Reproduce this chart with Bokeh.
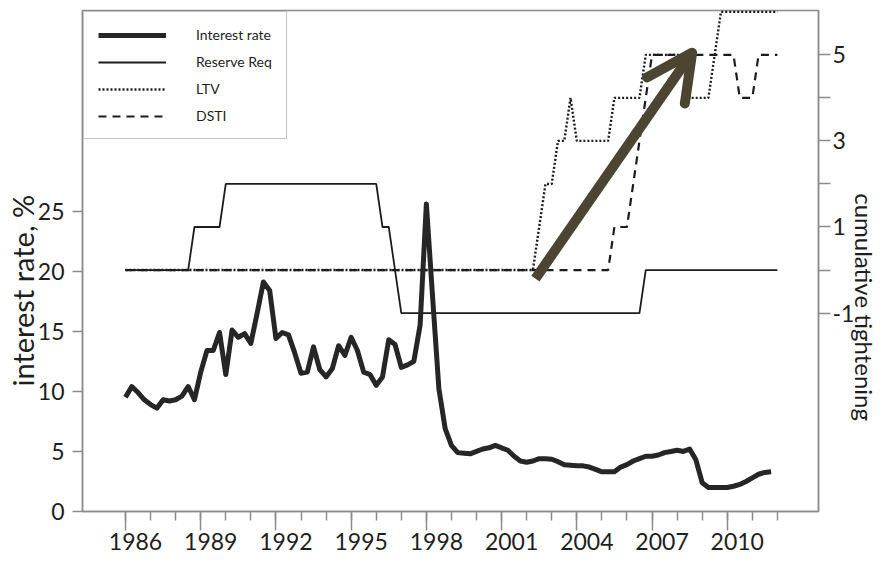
from bokeh.plotting import figure
from bokeh.models import (Range1d, LinearAxis, FixedTicker, Legend, LegendItem,
                          Arrow, OpenHead, CustomJSTickFormatter)
from bokeh.embed import file_html
from bokeh.resources import INLINE

# ---------------- data ----------------
# quarterly interest rate, %, first point = 1986 Q1
IR_FIRST_YEAR = 1986.0
INTEREST_RATE = [
    9.5, 10.4, 9.9, 9.3, 8.9, 8.6, 9.3, 9.2, 9.3, 9.6, 10.4, 9.3,          # 1986-1988
    11.6, 13.4, 13.4, 14.9, 11.4, 15.1, 14.5, 14.8, 14.0, 16.5, 19.1, 18.4,  # 1989-1991
    14.4, 14.9, 14.7, 13.2, 11.5, 11.6, 13.7, 11.8, 11.2, 11.9, 13.8, 13.0,  # 1992-1994
    14.5, 13.4, 11.6, 11.4, 10.5, 11.2, 14.3, 13.9, 12.0, 12.2, 12.5, 15.5,  # 1995-1997
    25.6, 17.8, 10.2, 6.9, 5.5, 4.9, 4.85, 4.8, 5.0, 5.2, 5.3, 5.5,          # 1998-2000
    5.3, 5.1, 4.6, 4.2, 4.1, 4.2, 4.4, 4.4, 4.35, 4.15, 3.9, 3.85,           # 2001-2003
    3.8, 3.8, 3.7, 3.5, 3.3, 3.3, 3.3, 3.7, 3.9, 4.2, 4.4, 4.6,              # 2004-2006
    4.6, 4.7, 4.9, 5.0, 5.1, 5.0, 5.2, 4.3, 2.4, 2.0, 2.0, 2.0,              # 2007-2009
    2.0, 2.1, 2.25, 2.5, 2.8, 3.1, 3.25, 3.3,                                # 2010-2011
]
IR_YEARS = [IR_FIRST_YEAR + i / 4 for i in range(len(INTEREST_RATE))]

# cumulative tightening (right axis): break points of each policy series
RR_YEARS = [1986.0, 1988.5, 1988.75, 1989.75, 1990.0, 1996.0, 1996.25, 1996.5,
            1997.0, 2006.5, 2006.75, 2012.0]
RR_VALUES = [0, 0, 1, 1, 2, 2, 1, 1, -1, -1, 0, 0]

LTV_YEARS = [1986.0, 2002.25, 2002.75, 2003.0, 2003.25, 2003.5, 2003.75, 2004.0,
             2005.25, 2005.5, 2006.5, 2006.75, 2008.25, 2008.5, 2009.25, 2009.75, 2012.0]
LTV_VALUES = [0, 0, 2, 2, 3, 3, 4, 3, 3, 4, 4, 5, 5, 4, 4, 6, 6]

DSTI_YEARS = [1986.0, 2005.25, 2005.5, 2006.0, 2006.25, 2006.5, 2006.75, 2007.0,
              2010.25, 2010.5, 2011.0, 2011.25, 2012.0]
DSTI_VALUES = [0, 0, 1, 1, 2, 3, 4, 5, 5, 4, 4, 5, 5]

SERIES_NAMES = ["Interest rate", "Reserve Req", "LTV", "DSTI"]
LEFT_TITLE = "interest rate, %"
RIGHT_TITLE = "cumulative tightening"

# axes
X_RANGE = (1984.285, 2013.64)
LEFT_RANGE = (0, 41.7)
RIGHT_RANGE = (-5.61, 6.03)
LEFT_TICKS = [0, 5, 10, 15, 20, 25]
RIGHT_LABELLED_TICKS = [-1, 1, 3, 5]
RIGHT_MINOR_TICKS = [0, 2, 4]
LABEL_YEARS = [1986, 1989, 1992, 1995, 1998, 2001, 2004, 2007, 2010]
ALL_YEARS = list(range(1986, 2013))
LABEL_SHIFT = 0.4  # year labels sit a little right of their tick

# annotation arrow (in years / cumulative-tightening units)
ARROW_FROM = (2002.35, -0.2)
ARROW_TO = (2008.6, 5.05)

# ---------------- styling ----------------
AX_COLOR = "#8c8c8c"
TXT = "#1e1e1e"
LINE = "#1c1c1c"
ARROW_COLOR = "#4b4531"
FONT = "Lato"
NBSP = "\u00a0"

p = figure(width=886, height=564, output_backend="svg", toolbar_location=None,
           x_range=Range1d(*X_RANGE), y_range=Range1d(*LEFT_RANGE),
           min_border_left=82, min_border_right=68, min_border_top=10,
           min_border_bottom=53, background_fill_color="white",
           border_fill_color="white")
p.extra_y_ranges = {"tight": Range1d(*RIGHT_RANGE)}
p.grid.visible = False
p.outline_line_color = AX_COLOR
p.outline_line_width = 1.5


def style_axis(ax, font_size):
    ax.axis_line_color = AX_COLOR
    ax.axis_line_width = 1.5
    ax.major_tick_line_color = AX_COLOR
    ax.major_tick_line_width = 1.5
    ax.minor_tick_line_color = AX_COLOR
    ax.minor_tick_line_width = 1.5
    ax.major_tick_in = 0
    ax.minor_tick_in = 0
    ax.major_label_text_font = FONT
    ax.major_label_text_font_size = font_size
    ax.major_label_text_color = TXT
    ax.axis_label_text_font = FONT
    ax.axis_label_text_font_style = "normal"
    ax.axis_label_text_color = TXT


# left axis
yl = p.yaxis[0]
yl.ticker = FixedTicker(ticks=LEFT_TICKS, minor_ticks=[])
style_axis(yl, "23px")
yl.major_tick_out = 10
yl.minor_tick_out = 0
yl.major_label_standoff = 8
yl.axis_label = LEFT_TITLE + NBSP * 8
yl.axis_label_text_font_size = "29px"
yl.axis_label_standoff = -5

# right axis
yr = LinearAxis(y_range_name="tight",
                ticker=FixedTicker(ticks=RIGHT_LABELLED_TICKS, minor_ticks=RIGHT_MINOR_TICKS),
                formatter=CustomJSTickFormatter(code="return tick.toString()"))
style_axis(yr, "23px")
yr.major_tick_out = 12
yr.minor_tick_out = 12
yr.major_label_standoff = 2
yr.axis_label = NBSP * 15 + RIGHT_TITLE
yr.axis_label_text_font_size = "24px"
yr.axis_label_standoff = -7
p.add_layout(yr, "right")

# bottom axis: tick marks only
xb = p.xaxis[0]
xb.ticker = FixedTicker(ticks=LABEL_YEARS, minor_ticks=ALL_YEARS)
style_axis(xb, "1px")
xb.major_tick_out = 19
xb.minor_tick_out = 9
xb.major_label_standoff = 0
xb.formatter = CustomJSTickFormatter(code="return ''")

# bottom axis: year labels
xl = LinearAxis(ticker=FixedTicker(ticks=[y + LABEL_SHIFT for y in LABEL_YEARS], minor_ticks=[]),
                formatter=CustomJSTickFormatter(code="return Math.floor(tick).toString()"))
style_axis(xl, "23px")
xl.axis_line_color = None
xl.major_tick_line_color = None
xl.minor_tick_line_color = None
xl.major_tick_out = 0
xl.minor_tick_out = 0
xl.major_label_standoff = 2
p.add_layout(xl, "below")

# ---------------- series ----------------
r_rr = p.line(RR_YEARS, RR_VALUES, y_range_name="tight", line_color=LINE, line_width=1.8)
r_ltv = p.line(LTV_YEARS, LTV_VALUES, y_range_name="tight", line_color=LINE,
               line_width=2.4, line_dash="2 2")
r_dsti = p.line(DSTI_YEARS, DSTI_VALUES, y_range_name="tight", line_color=LINE,
                line_width=2.2, line_dash="8 6")
r_ir = p.line(IR_YEARS, INTEREST_RATE, line_color="#262626", line_width=5,
              line_join="round")

legend = Legend(items=[LegendItem(label=SERIES_NAMES[0], renderers=[r_ir]),
                       LegendItem(label=SERIES_NAMES[1], renderers=[r_rr]),
                       LegendItem(label=SERIES_NAMES[2], renderers=[r_ltv]),
                       LegendItem(label=SERIES_NAMES[3], renderers=[r_dsti])],
                location="top_left", margin=1, padding=14, spacing=10,
                glyph_width=68, glyph_height=14, label_height=14, label_standoff=30,
                label_text_font=FONT, label_text_font_size="14px",
                label_text_color=TXT, border_line_color=AX_COLOR,
                border_line_width=1.5, background_fill_color="white",
                background_fill_alpha=1)
p.add_layout(legend)

arrow = Arrow(x_start=ARROW_FROM[0], y_start=ARROW_FROM[1],
              x_end=ARROW_TO[0], y_end=ARROW_TO[1], y_range_name="tight",
              line_color=ARROW_COLOR, line_width=10, line_cap="butt",
              end=OpenHead(size=46, line_color=ARROW_COLOR, line_width=10,
                           line_cap="round", line_join="round"))
p.add_layout(arrow)

open("out.html", "w").write(file_html(p, INLINE))
